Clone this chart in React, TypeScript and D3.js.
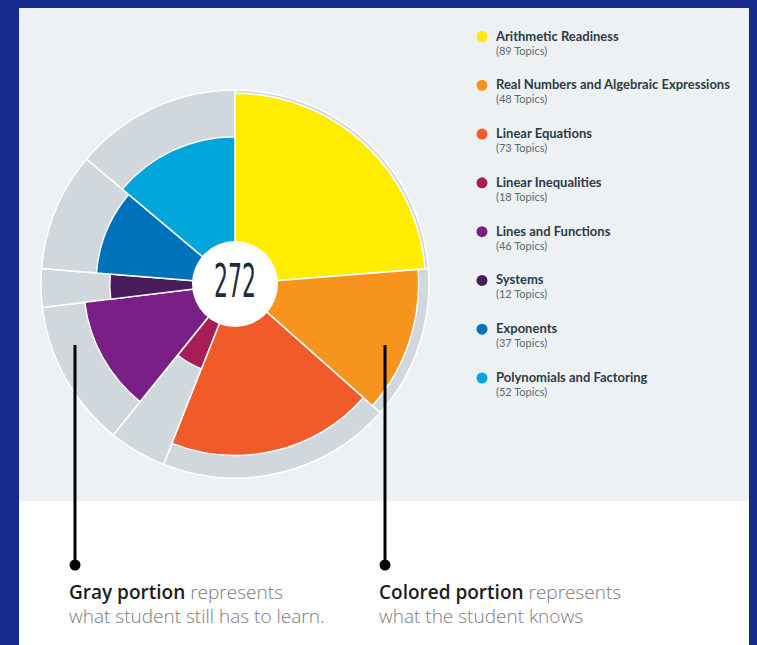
import React from "react";
import * as d3 from "d3";

const categories = [
  "Arithmetic Readiness",
  "Real Numbers and Algebraic Expressions",
  "Linear Equations",
  "Linear Inequalities",
  "Lines and Functions",
  "Systems",
  "Exponents",
  "Polynomials and Factoring",
];
const topicCounts = [89, 48, 73, 18, 46, 12, 37, 52];
const knownCounts = [86, 43, 57, 4, 28, 5, 19, 30];
const sliceColors = [
  "#ffec00",
  "#f7941d",
  "#f15a29",
  "#a61e55",
  "#7a1f86",
  "#4b1c5c",
  "#0072bb",
  "#00a5d9",
];

const W = 757;
const H = 645;
const cx = 235;
const cy = 284;
const R = 194;
const holeR = 43;

const App = () => {
  const arcs = d3
    .pie<number>()
    .sort(null)
    .value((d) => d)(topicCounts);

  const r = d3.scaleSqrt().domain([0, 1]).range([0, R]);

  const grayArc = d3.arc<d3.PieArcDatum<number>>().innerRadius(0).outerRadius(R);
  const knownArc = d3
    .arc<d3.PieArcDatum<number>>()
    .innerRadius(0)
    .outerRadius((d) => r(knownCounts[d.index] / topicCounts[d.index]));

  const legendY = d3.scaleLinear().domain([0, 7]).range([36.5, 378]);
  const total = d3.sum(knownCounts);

  return (
    <svg
      width={W}
      height={H}
      style={{ position: "absolute", left: 0, top: 0 }}
      fontFamily="Lato, sans-serif"
    >
      <rect width={W} height={H} fill="#142a8c" />
      <rect x={19} y={8} width={730} height={493} fill="#eef1f4" />
      <rect x={19} y={501} width={730} height={H - 501} fill="#ffffff" />

      <g transform={`translate(${cx},${cy})`}>
        {arcs.map((a) => (
          <path key={"g" + a.index} d={grayArc(a) || ""} fill="#d0d8dd" stroke="#fff" strokeWidth={1.5} />
        ))}
        {arcs.map((a) => (
          <path
            key={"k" + a.index}
            d={knownArc(a) || ""}
            fill={sliceColors[a.index]}
            stroke="#fff"
            strokeWidth={1.5}
          />
        ))}
        <circle r={holeR} fill="#ffffff" />
        <text
          y={13}
          textAnchor="middle"
          fontFamily="'Liberation Sans Narrow', 'DejaVu Sans Condensed', sans-serif"
          fontSize={46}
          textLength={42}
          lengthAdjust="spacingAndGlyphs"
          fill="#1e2c37"
        >
          {total}
        </text>
      </g>

      {categories.map((c, i) => (
        <g key={c} transform={`translate(0,${legendY(i)})`}>
          <circle cx={482} cy={0} r={5.5} fill={sliceColors[i]} />
          <text x={496} y={4} fontSize={13} fontWeight={700} fill="#2c3b47">
            {c}
          </text>
          <text x={496} y={18} fontSize={11} fill="#5d6872">
            ({topicCounts[i]} Topics)
          </text>
        </g>
      ))}

      {[75, 385].map((x) => (
        <g key={x}>
          <line x1={x} x2={x} y1={345} y2={565} stroke="#000" strokeWidth={3} />
          <circle cx={x} cy={565} r={5.5} fill="#000" />
        </g>
      ))}

      <g fontFamily="'Open Sans', sans-serif" fontSize={19}>
        <text x={69} y={599}>
          <tspan fill="#1d1d1d" fontWeight={600}>Gray portion</tspan>
          <tspan fill="#7b7b7b" fontWeight={300}> represents</tspan>
        </text>
        <text x={69} y={623} fill="#7b7b7b" fontWeight={300}>
          what student still has to learn.
        </text>
        <text x={379} y={599}>
          <tspan fill="#1d1d1d" fontWeight={600}>Colored portion</tspan>
          <tspan fill="#7b7b7b" fontWeight={300}> represents</tspan>
        </text>
        <text x={379} y={623} fill="#7b7b7b" fontWeight={300}>
          what the student knows
        </text>
      </g>
    </svg>
  );
};

export default App;
